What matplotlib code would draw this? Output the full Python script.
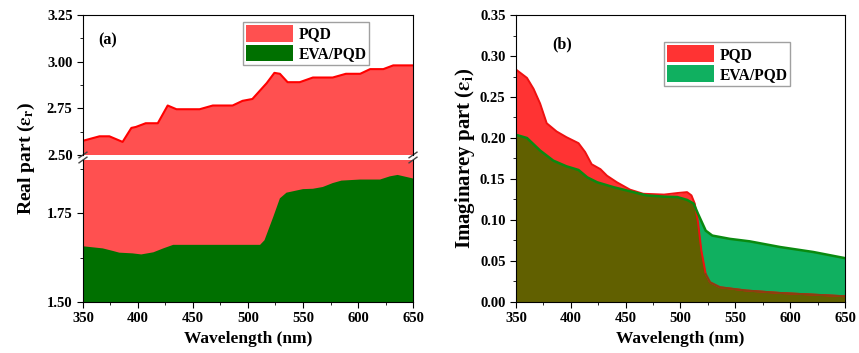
import matplotlib
matplotlib.use("Agg")
import matplotlib.pyplot as plt
from matplotlib.patches import Patch
from matplotlib.ticker import MultipleLocator
import numpy as np

plt.rcParams['font.family'] = ['Liberation Serif', 'DejaVu Serif']
plt.rcParams['font.weight'] = 'bold'
plt.rcParams['mathtext.fontset'] = 'stix'

# (a) real part
wl_r_pqd = [350, 365, 374, 386, 394, 398, 407, 418, 427, 435, 456, 468, 486, 495, 504,
            517, 524, 529, 536, 547, 559, 577, 589, 602, 611, 623, 632, 650]
er_pqd = [2.576, 2.60, 2.60, 2.57, 2.645, 2.65, 2.67, 2.67, 2.765, 2.745, 2.745, 2.765, 2.765, 2.79, 2.80,
          2.885, 2.94, 2.935, 2.89, 2.89, 2.915, 2.915, 2.935, 2.935, 2.96, 2.96, 2.98, 2.98]
wl_r_eva = [350, 359, 368, 377, 383, 395, 403, 414, 423, 432, 456, 511, 515, 523, 529, 535,
            550, 559, 568, 577, 585, 602, 620, 629, 636, 650]
er_eva = [1.657, 1.654, 1.651, 1.644, 1.639, 1.637, 1.634, 1.64, 1.651, 1.661, 1.661, 1.661, 1.674, 1.74,
          1.792, 1.808, 1.818, 1.819, 1.824, 1.835, 1.842, 1.845, 1.845, 1.854, 1.858, 1.848]

# (b) imaginary part
wl_i_pqd = [350, 360, 366, 372, 378, 387, 396, 407, 413, 419, 427, 433, 442, 454, 466, 485, 498,
            506, 510, 513, 516, 519, 523, 527, 536, 560, 591, 621, 650]
ei_pqd = [0.2835, 0.2733, 0.260, 0.242, 0.218, 0.208, 0.201, 0.1937, 0.183, 0.168, 0.162, 0.154, 0.146,
          0.137, 0.132, 0.131, 0.133, 0.134, 0.130, 0.120, 0.097, 0.063, 0.034, 0.024, 0.018, 0.014,
          0.011, 0.009, 0.007]
wl_i_eva = [350, 360, 372, 384, 396, 407, 415, 424, 439, 454, 469, 485, 497, 506, 512, 516, 523,
            529, 545, 563, 591, 621, 650]
ei_eva = [0.2039, 0.200, 0.1847, 0.1724, 0.1655, 0.161, 0.152, 0.146, 0.140, 0.135, 0.130, 0.1285,
          0.128, 0.1245, 0.120, 0.1075, 0.087, 0.081, 0.077, 0.074, 0.067, 0.061, 0.0535]

tick_fs = 10.5
fig = plt.figure(figsize=(8.59, 3.53), dpi=100)
ax_top = fig.add_axes([0.0966, 0.561, 0.3842, 0.3965])
ax_bot = fig.add_axes([0.0966, 0.1445, 0.3842, 0.4022])
ax_b = fig.add_axes([0.6007, 0.1445, 0.383, 0.813])

red_a = '#ff5050'
green_a = '#007000'
for ax in (ax_top, ax_bot):
    ax.fill_between(wl_r_pqd, er_pqd, 0, color=red_a, lw=0)
    ax.plot(wl_r_pqd, er_pqd, color='#ff0000', lw=1.5)
    ax.fill_between(wl_r_eva, er_eva, 0, color=green_a, lw=0)
    ax.set_xlim(350, 650)
    ax.tick_params(which='both', direction='out', labelsize=tick_fs, top=False, right=False)
    ax.tick_params(which='major', length=4)
    ax.tick_params(which='minor', length=2)
    ax.xaxis.set_major_locator(MultipleLocator(50))
    ax.xaxis.set_minor_locator(MultipleLocator(25))
    ax.yaxis.set_major_locator(MultipleLocator(0.25))
    ax.yaxis.set_minor_locator(MultipleLocator(0.125))
    ax.yaxis.set_major_formatter(matplotlib.ticker.FormatStrFormatter('%.2f'))

ax_top.set_ylim(2.50, 3.25)
ax_bot.set_ylim(1.50, 1.90)
ax_top.spines['bottom'].set_visible(False)
ax_bot.spines['top'].set_visible(False)
ax_top.tick_params(axis='x', which='both', bottom=False, labelbottom=False)
ax_bot.set_yticks([1.50, 1.75])
ax_bot.set_xlabel('Wavelength (nm)', fontsize=12.5, fontweight='bold', labelpad=4)
fig.text(0.031, 0.552, r'Real part ($\mathbf{\varepsilon_r}$)', rotation=90, fontsize=14,
         fontweight='bold', ha='center', va='center')

# break marks
d = 0.012
for x0 in (0, 1):
    for y0, axx in ((0, ax_top), (1, ax_bot)):
        axx.plot([x0 - d, x0 + d], [y0 - 0.02, y0 + 0.02], transform=axx.transAxes,
                 color='#444444', lw=1, clip_on=False)

ax_top.text(0.045, 0.79, '(a)', transform=ax_top.transAxes, fontsize=11.5, fontweight='bold')
ax_top.legend(handles=[Patch(facecolor=red_a, edgecolor='none', label='PQD'),
                       Patch(facecolor=green_a, edgecolor='none', label='EVA/PQD')],
              loc='upper left', bbox_to_anchor=(0.485, 0.95), fontsize=11.2, frameon=True, fancybox=False,
              edgecolor='#888888', handlelength=3.0, handleheight=1.25, borderpad=0.2,
              labelspacing=0.15, handletextpad=0.35, borderaxespad=0)

# (b)
red_b = '#ff3333'
green_b = '#10b060'
olive = '#616000'
ax_b.fill_between(wl_i_pqd, ei_pqd, 0, color=red_b, lw=0)
ax_b.fill_between(wl_i_eva, ei_eva, 0, color=green_b, lw=0)
xx = np.union1d(wl_i_pqd, wl_i_eva)
lower = np.minimum(np.interp(xx, wl_i_pqd, ei_pqd), np.interp(xx, wl_i_eva, ei_eva))
ax_b.fill_between(xx, lower, 0, color=olive, lw=0)
ax_b.plot(wl_i_pqd, ei_pqd, color='#ee1111', lw=1.4)
ax_b.plot(wl_i_eva, ei_eva, color='#0a8a10', lw=1.8)
ax_b.plot(wl_i_pqd[22:], ei_pqd[22:], color='#8a4010', lw=1.4)
ax_b.set_xlim(350, 650)
ax_b.set_ylim(0, 0.35)
ax_b.tick_params(which='both', direction='out', labelsize=tick_fs, top=False, right=False)
ax_b.tick_params(which='major', length=4)
ax_b.tick_params(which='minor', length=2)
ax_b.xaxis.set_major_locator(MultipleLocator(50))
ax_b.xaxis.set_minor_locator(MultipleLocator(25))
ax_b.yaxis.set_major_locator(MultipleLocator(0.05))
ax_b.yaxis.set_minor_locator(MultipleLocator(0.025))
ax_b.yaxis.set_major_formatter(matplotlib.ticker.FormatStrFormatter('%.2f'))
ax_b.set_xlabel('Wavelength (nm)', fontsize=12.5, fontweight='bold', labelpad=4)
ax_b.set_ylabel(r'Imaginarey part ($\mathbf{\varepsilon_i}$)', fontsize=15, fontweight='bold', labelpad=2)
ax_b.text(0.11, 0.885, '(b)', transform=ax_b.transAxes, fontsize=11.5, fontweight='bold')
ax_b.legend(handles=[Patch(facecolor=red_b, edgecolor='none', label='PQD'),
                     Patch(facecolor=green_b, edgecolor='none', label='EVA/PQD')],
            loc='upper left', bbox_to_anchor=(0.45, 0.905), fontsize=11.2, frameon=True, fancybox=False,
            edgecolor='#888888', handlelength=3.0, handleheight=1.25, borderpad=0.2,
            labelspacing=0.15, handletextpad=0.35, borderaxespad=0)

fig.savefig('out.png', dpi=100)
